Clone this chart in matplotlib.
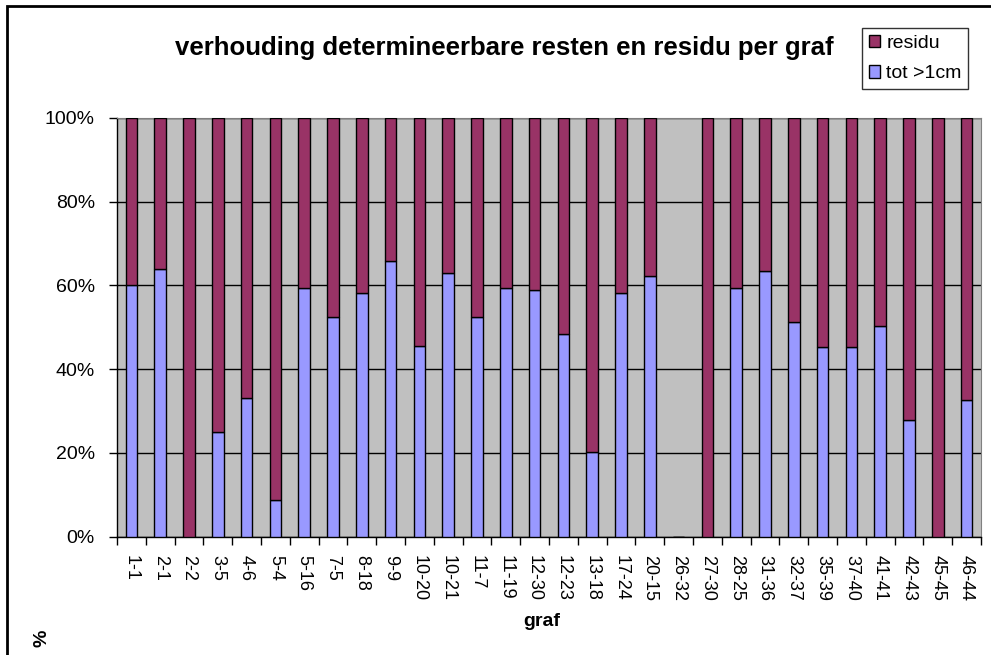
import numpy as np
import matplotlib
matplotlib.use("Agg")
import matplotlib.pyplot as plt
from matplotlib.patches import Patch, Rectangle

plt.rcParams['font.family'] = ['Liberation Sans', 'DejaVu Sans']

# graf labels and share of determinable remains (tot >1cm) in %
graven = ['1-1', '2-1', '2-2', '3-5', '4-6', '5-4', '5-16', '7-5', '8-18', '9-9',
          '10-20', '10-21', '11-7', '11-19', '12-30', '12-23', '13-18', '17-24', '20-15', '26-32',
          '27-30', '28-25', '31-36', '32-37', '35-39', '37-40', '41-41', '42-43', '45-45', '46-44']
tot_1cm = [60.0, 63.8, 0.0, 25.0, 33.0, 8.8, 59.4, 52.5, 58.2, 65.8,
           45.5, 63.0, 52.5, 59.4, 58.9, 48.4, 20.1, 58.2, 62.2, np.nan,
           0.0, 59.4, 63.3, 51.3, 45.2, 45.2, 50.4, 27.8, 0.0, 32.6]
# residu is the rest up to 100% (26-32 has no data)
residu = [np.nan if np.isnan(v) else 100 - v for v in tot_1cm]

c_tot = '#9999FF'
c_res = '#993366'

fig = plt.figure(figsize=(9.91, 6.55), dpi=100)
ax = fig.add_axes([117 / 991, 1 - 536.7 / 655, 864 / 991, 419 / 655])

x = np.arange(len(graven))
tot = np.nan_to_num(tot_1cm)
res = np.nan_to_num(residu)
ax.bar(x, tot, width=0.4, color=c_tot, edgecolor='black', linewidth=1.0, zorder=3)
ax.bar(x, res, bottom=tot, width=0.4, color=c_res, edgecolor='black', linewidth=1.0, zorder=3)

ax.set_facecolor('#C0C0C0')
ax.set_xlim(-0.5, len(graven) - 0.5)
ax.set_ylim(0, 100)
ax.set_yticks(np.arange(0, 101, 20))
ax.set_yticklabels([f"{v}%" for v in range(0, 101, 20)], fontsize=14)
ax.grid(True, axis='y', color='black', linewidth=1.0, zorder=1)
ax.set_axisbelow(True)

# labels at bar centres, tick marks between the bars
ax.set_xticks(x)
ax.set_xticklabels(graven, rotation=-90, fontsize=13)
ax.tick_params(axis='x', which='major', length=0, pad=13)
ax.set_xticks(np.arange(-0.5, len(graven)), minor=True)
ax.tick_params(axis='x', which='minor', length=6, width=1.0, direction='out')
ax.tick_params(axis='y', length=6, width=1.0, direction='out', pad=10)

for side in ['top', 'right']:
    ax.spines[side].set_color('#808080')
for side in ['left', 'bottom']:
    ax.spines[side].set_color('black')
    ax.spines[side].set_linewidth(1.0)

fig.text(504 / 991, 1 - 48 / 655, "verhouding determineerbare resten en residu per graf",
         ha='center', va='center', fontsize=18.5, fontweight='bold')
fig.text(542 / 991, 1 - 621 / 655, "graf", ha='center', va='center',
         fontsize=14, fontweight='bold')
fig.text(42 / 991, 1 - 638 / 655, "%", ha='center', va='center',
         fontsize=14, fontweight='bold', rotation=90)

# outer chart border (cut off on the right and bottom)
fig.patches.append(Rectangle((7 / 991, -0.2), 1.2, 1 - 6 / 655 + 0.2,
                             transform=fig.transFigure, fill=False,
                             edgecolor='black', linewidth=2.0))

handles = [Patch(facecolor=c_res, edgecolor='black', label='residu'),
           Patch(facecolor=c_tot, edgecolor='black', label='tot >1cm')]
leg = fig.legend(handles=handles, loc='upper left',
                 bbox_to_anchor=(862 / 991, 1 - 28 / 655), fontsize=14,
                 frameon=True, fancybox=False, edgecolor='black',
                 handlelength=0.6, handleheight=0.6, handletextpad=0.3,
                 borderpad=0.35, labelspacing=0.7, borderaxespad=0)
leg.get_frame().set_linewidth(1.0)

fig.savefig('out.png', dpi=100)
